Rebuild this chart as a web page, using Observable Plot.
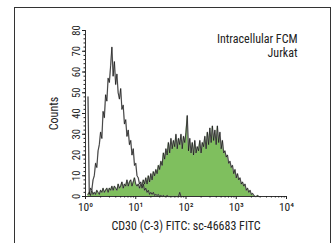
<!DOCTYPE html>
<html>
<head>
<meta charset="utf-8">
<script src="https://cdn.jsdelivr.net/npm/d3@7"></script>
<script src="https://cdn.jsdelivr.net/npm/@observablehq/plot@0.6"></script>
<style>
  html, body { margin: 0; padding: 0; background: #fff; }
  #wrap { position: relative; width: 332px; height: 243px; overflow: hidden; }
  #frame { position: absolute; left: 14px; top: 7px; width: 317px; height: 250px;
           border: 1.5px solid #333; box-sizing: border-box; }
  #chart { position: absolute; left: 0; top: 0; }
</style>
</head>
<body>
<div id="wrap"><div id="frame"></div><div id="chart"></div></div>
<script>
// ---- data (log10 channel of first bin, bin width in decades, counts) ----
const binWidth = 0.025;
const controlStart = 0.05;
const controlCounts = [48, 1, 4, 3, 8, 10, 16, 14, 22, 25, 31, 28, 41, 38, 49, 46, 57, 55, 63, 72,
  58, 65, 54, 59, 50, 47, 52, 42, 44, 35, 37, 29, 32, 25, 27, 20, 23, 15, 16, 10,
  9, 6, 7, 4, 6, 3, 4, 2, 3, 1, 2, 1, 2, 0.5, 1, 0.5, 1, 0, 0.5, 0,
  0.5, 0, 0, 0.5, 0, 0, 0, 0, 0, 0, 0, 0, 0, 2, 0, 0];
const stainedStart = 0.05;
const stainedCounts = [1, 2, 0.5, 3, 1, 2, 1, 3, 2, 1, 3, 2, 4, 2, 3, 4, 2, 4, 3, 5,
  3, 5, 4, 3, 6, 4, 5, 7, 4, 6, 5, 8, 5, 7, 8, 5, 7, 9, 6, 5,
  6, 4, 6, 5, 8, 6, 9, 6, 10, 7, 11, 8, 12, 10, 13, 11, 15, 13, 17, 15,
  21, 18, 23, 20, 26, 21, 28, 23, 27, 24, 30, 23, 28, 25, 30, 23, 29, 26, 31, 39,
  22, 28, 21, 26, 20, 27, 21, 24, 22, 27, 21, 26, 24, 29, 23, 31, 25, 33, 26, 34,
  27, 32, 25, 34, 26, 31, 23, 27, 21, 22, 19, 20, 16, 17, 14, 15, 11, 13, 9, 11,
  8, 9, 6, 7, 5, 6, 3, 4, 2, 3, 1, 1.5, 0.5, 0, 0, 0.5, 0];
const xTickExps = [0, 1, 2, 3, 4];
const yTicks = [0, 10, 20, 30, 40, 50, 60, 70, 80];
const yMinorTicks = d3.range(0, 81, 2);
const xLabel = "CD30 (C-3) FITC: sc-46683 FITC";
const yLabel = "Counts";
const noteLine1 = "Intracellular FCM";
const noteLine2 = "Jurkat";

// ---- build tables ----
function toSeries(start, counts) {
  return counts.map((c, i) => ({x: Math.pow(10, start + i * binWidth), y: c}));
}
const control = toSeries(controlStart, controlCounts);
const stained = toSeries(stainedStart, stainedCounts);
const sup = {"0": "⁰", "1": "¹", "2": "²", "3": "³", "4": "⁴"};
const xMinor = [];
for (let e = 0; e < 4; e++) for (let k = 2; k <= 9; k++) xMinor.push(k * Math.pow(10, e));

const font = "'Liberation Sans Narrow', 'Roboto Condensed', 'Liberation Sans', sans-serif";

const chart = Plot.plot({
  width: 332,
  height: 243,
  marginLeft: 85,
  marginRight: 46,
  marginTop: 30,
  marginBottom: 47,
  style: {fontFamily: font, fontSize: "10px", color: "#222", background: "transparent"},
  x: {type: "log", domain: [1, 10000]},
  y: {domain: [0, 80]},
  marks: [
    Plot.areaY(stained, {x: "x", y: "y", fill: "#7fbf5e"}),
    Plot.lineY(stained, {x: "x", y: "y", stroke: "#999", strokeWidth: 1.4, strokeOpacity: 0.7}),
    Plot.lineY(stained, {x: "x", y: "y", stroke: "#111", strokeWidth: 0.7}),
    Plot.lineY(control, {x: "x", y: "y", stroke: "#999", strokeWidth: 1.4, strokeOpacity: 0.7}),
    Plot.lineY(control, {x: "x", y: "y", stroke: "#111", strokeWidth: 0.7}),
    Plot.ruleX([1], {y1: 0, y2: 80, stroke: "#333", strokeWidth: 1}),
    Plot.ruleY([0], {x1: 1, x2: 10000, stroke: "#333", strokeWidth: 1}),
    Plot.axisX({ticks: xTickExps.map(e => Math.pow(10, e)), tickSize: 3, tickPadding: 3,
      tickFormat: d => "10" + sup[String(Math.round(Math.log10(d)))], fontSize: 11.5,
      label: xLabel, labelAnchor: "center", labelArrow: "none", labelOffset: 33}),
    Plot.axisX({ticks: xMinor, tickSize: 1.5, text: null, label: null}),
    Plot.axisY({ticks: yTicks, tickSize: 3, tickPadding: 3, tickRotate: -90, fontSize: 10.5,
      label: yLabel, labelAnchor: "center", labelArrow: "none", labelOffset: 36}),
    Plot.axisY({ticks: yMinorTicks, tickSize: 1.5, text: null, label: null}),
    Plot.text([noteLine1], {text: d => d, frameAnchor: "top-right", dx: 11, dy: 4,
      fontSize: 12, textAnchor: "end", fill: "#222"}),
    Plot.text([noteLine2], {text: d => d, frameAnchor: "top-right", dx: 11, dy: 18,
      fontSize: 12, textAnchor: "end", fill: "#222"})
  ]
});
chart.querySelectorAll("[aria-label='x-axis label'] text, [aria-label='y-axis label'] text")
  .forEach(t => t.style.fontSize = "12px");
document.getElementById("chart").appendChild(chart);
</script>
</body>
</html>
